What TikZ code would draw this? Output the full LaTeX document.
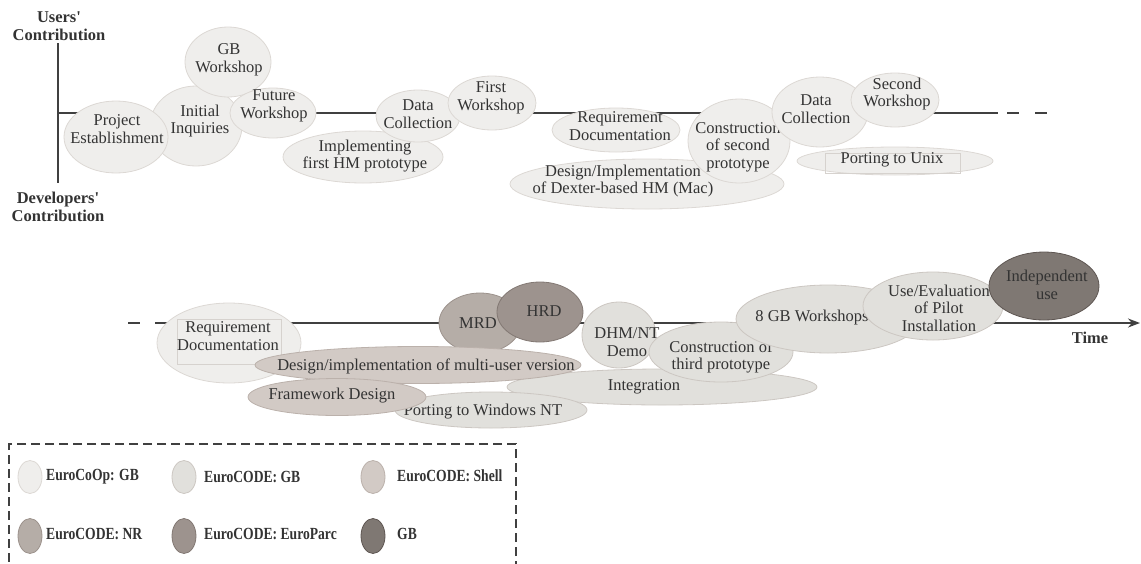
\documentclass[tikz,border=0pt]{standalone}
\usepackage{fontspec}
\setmainfont{Liberation Serif}
\newfontfamily\legfont[FakeStretch=0.8]{Liberation Serif}
\usetikzlibrary{shapes.geometric,arrows.meta}

% phase colours
\definecolor{coopF}{HTML}{EFEEEC}\definecolor{coopD}{HTML}{DCD8D4}
\definecolor{gbF}{HTML}{E1E0DC}\definecolor{gbD}{HTML}{CCC7C2}
\definecolor{shellF}{HTML}{D2CAC5}\definecolor{shellD}{HTML}{BBB1AB}
\definecolor{nrF}{HTML}{B5ADA7}\definecolor{nrD}{HTML}{9C928C}
\definecolor{epF}{HTML}{9D938E}\definecolor{epD}{HTML}{827873}
\definecolor{indF}{HTML}{7F7873}\definecolor{indD}{HTML}{5E5652}
\definecolor{txtc}{HTML}{333333}
\definecolor{axisc}{HTML}{404040}
\definecolor{boxc}{HTML}{D6D2CE}

\tikzset{
  blob/.style={ellipse, inner sep=0pt, line width=0.8pt},
  coop/.style={blob, fill=coopF, draw=coopD},
  egb/.style={blob, fill=gbF, draw=gbD},
  shell/.style={blob, fill=shellF, draw=shellD},
  nr/.style={blob, fill=nrF, draw=nrD},
  ep/.style={blob, fill=epF, draw=epD},
  ind/.style={blob, fill=indF, draw=indD},
  sz/.style 2 args={minimum width=#1pt, minimum height=#2pt},
  lbl/.style={align=center, inner sep=0pt, text=txtc,
    font=\fontsize{16.5}{17.5}\selectfont},
  axlbl/.style={align=center, inner sep=0pt, text=txtc,
    font=\bfseries\fontsize{16.5}{18}\selectfont},
  leg/.style={anchor=west, inner sep=0pt, text=txtc,
    font=\legfont\bfseries\fontsize{17}{18}\selectfont},
  axis/.style={draw=axisc, line width=2.6pt},
  frame/.style={draw=boxc, line width=0.8pt, inner sep=0pt}
}

\begin{document}
\begin{tikzpicture}[x=1pt, y=-1pt]
\useasboundingbox (0,0) rectangle (1141,563);

% ---------------- first period ----------------
\node[axlbl] (users) at (59,26) {Users\textquotesingle\\Contribution};
\node[axlbl] (devs) at (58,207) {Developers\textquotesingle\\Contribution};
\coordinate (vtop) at (58,43);
\coordinate (vbot) at (58,183);
\coordinate (h0) at (58,113);
\coordinate (h1) at (998,113);
\coordinate (h2) at (1048,113);
\draw[axis] (vtop) -- (vbot);
\draw[axis] (h0) -- (h1);
\draw[axis, dash pattern=on 12pt off 16pt] ([xshift=9pt]h1) -- (h2);

\node[coop, sz={92}{80}] (ii) at (196,126) {};
\node[lbl] (iit) at (200,121) {Initial\\Inquiries};
\node[coop, sz={86}{70}] (gbw) at (228,62) {};
\node[lbl] (gbwt) at (229,60) {GB\\Workshop};
\node[coop, sz={104}{72}] (pe) at (116,137) {};
\node[lbl] (pet) at (117,129) {Project\\Establishment};
\node[coop, sz={86}{50}] (fw) at (273,113) {};
\node[lbl] (fwt) at (274,106) {Future\\Workshop};
\node[coop, sz={160}{52}] (imp) at (363,157) {};
\node[lbl] (impt) at (365,156) {Implementing\\first HM prototype};
\node[coop, sz={84}{52}] (dc1) at (418,116) {};
\node[lbl] (dc1t) at (418,114) {Data\\Collection};
\node[coop, sz={88}{54}] (fiw) at (492,103) {};
\node[lbl] (fiwt) at (491,98) {First\\Workshop};
\node[coop, sz={128}{44}] (rd1) at (616,130) {};
\node[lbl] (rd1t) at (620,126) {Requirement\\Documentation};
\node[coop, sz={274}{50}] (dex) at (647,184) {};
\node[lbl] (dext) at (623,181) {Design/Implementation\\of Dexter-based HM (Mac)};
\node[coop, sz={102}{84}] (cs2) at (739,141) {};
\node[lbl] (cs2t) at (738,147) {Construction\\of second\\prototype};
\node[coop, sz={96}{70}] (dc2) at (820,112) {};
\node[lbl] (dc2t) at (816,109) {Data\\Collection};
\node[coop, sz={88}{54}] (sw) at (895,100) {};
\node[lbl] (swt) at (897,94) {Second\\Workshop};
\node[coop, sz={196}{28}] (unix) at (895,161) {};
\node[frame, minimum width=135pt, minimum height=20pt] (unixbox) at (893,163) {};
\node[lbl] (unixt) at (892,160) {Porting to Unix};

% ---------------- second period ----------------
\coordinate (t0) at (128,323);
\coordinate (t1) at (170,323);
\coordinate (t2) at (1140,323);
\draw[axis, dash pattern=on 12pt off 15pt] (t0) -- (t1);
\draw[axis] (t1) -- (1128,323);
\draw[axisc, line width=1.8pt, -{Stealth[length=12pt, width=9pt]}] (1120,323) -- (t2);
\node[axlbl] (time) at (1090,338) {Time};

\node[coop, sz={144}{80}] (rd2) at (229,343) {};
\node[frame, minimum width=104pt, minimum height=45pt] (rd2box) at (229,341.5) {};
\node[lbl] (rd2t) at (228,336) {Requirement\\Documentation};
\node[nr, sz={82}{60}] (mrd) at (480,323) {};
\node[lbl] (mrdt) at (478,323) {MRD};
\node[ep, sz={86}{60}] (hrd) at (540,312) {};
\node[lbl] (hrdt) at (544,311) {HRD};
\node[egb, sz={310}{36}] (integ) at (662,387) {};
\node[lbl] (integt) at (644,387) {Integration};
\node[egb, sz={192}{36}] (pnt) at (491,410) {};
\node[lbl] (pntt) at (483,412) {Porting to Windows NT};
\node[shell, sz={326}{37}] (mu) at (418,365) {};
\node[lbl] (mut) at (426,366) {Design/implementation of multi-user version};
\node[shell, sz={178}{37}] (fd) at (337,397) {};
\node[lbl] (fdt) at (332,396) {Framework Design};
\node[egb, sz={74}{66}] (dhm) at (619,335) {};
\node[lbl] (dhmt) at (627,342) {DHM/NT\\Demo};
\node[egb, sz={144}{60}] (cs3) at (721,352) {};
\node[lbl] (cs3t) at (721,357) {Construction of\\third prototype};
\node[egb, sz={184}{68}] (gb8) at (828,319) {};
\node[lbl] (gb8t) at (812,318) {8 GB Workshops};
\node[egb, sz={140}{68}] (use) at (933,306) {};
\node[lbl] (uset) at (939,308) {Use/Evaluation\\of Pilot\\Installation};
\node[ind, sz={110}{68}] (indep) at (1044,286) {};
\node[lbl] (indept) at (1047,285) {Independent\\use};

% ---------------- legend ----------------
\draw[axisc, line width=1.4pt, dash pattern=on 9pt off 5pt]
  (516,570) -- (516,444) -- (9,444) -- (9,570);
\node[coop, sz={24}{33}] (l1) at (30,477) {};
\node[leg] (l1t) at (46,477) {EuroCoOp: GB};
\node[egb, sz={24}{33}] (l2) at (184,477) {};
\node[leg] (l2t) at (204,477) {EuroCODE: GB};
\node[shell, sz={24}{33}] (l3) at (373,477) {};
\node[leg] (l3t) at (397,476) {EuroCODE: Shell};
\node[nr, sz={24}{35}] (l4) at (30,536) {};
\node[leg] (l4t) at (46,534) {EuroCODE: NR};
\node[ep, sz={24}{35}] (l5) at (184,536) {};
\node[leg] (l5t) at (204,534) {EuroCODE: EuroParc};
\node[ind, sz={24}{35}] (l6) at (373,536) {};
\node[leg] (l6t) at (397,534) {GB};
\end{tikzpicture}
\end{document}
